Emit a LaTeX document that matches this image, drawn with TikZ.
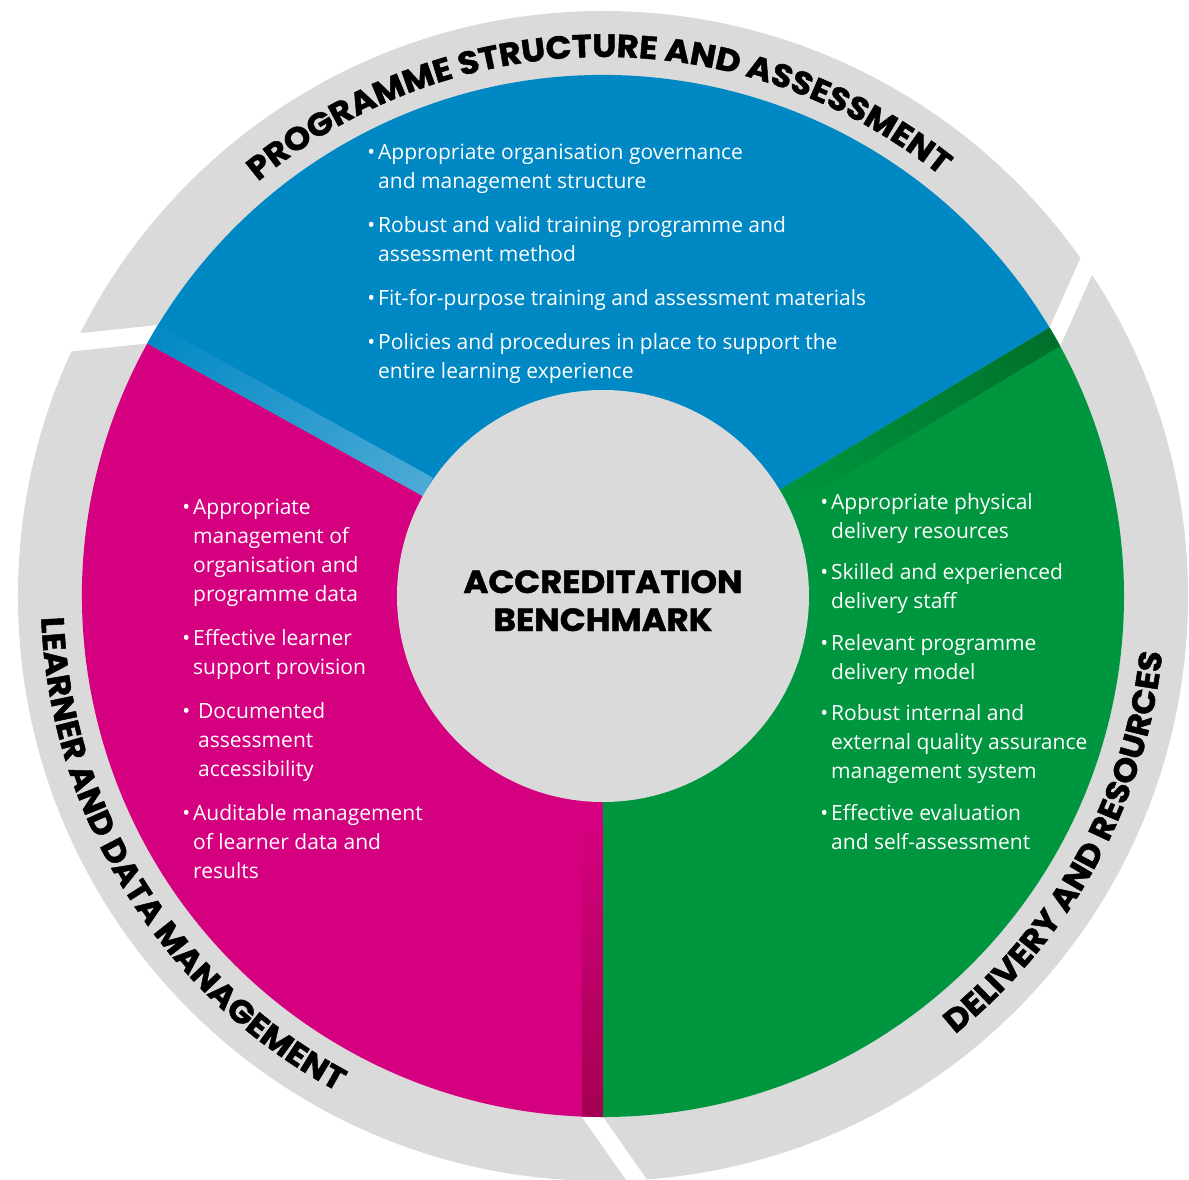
\documentclass[tikz,border=0pt]{standalone}
\usepackage{fontspec}
\setmainfont{Open Sans}
\newfontfamily\heavyfont{Poppins}[BoldFeatures={FakeBold=1.5, FakeStretch=1.06}]
\usetikzlibrary{decorations.text}

\definecolor{ringgrey}{HTML}{DADADA}
\definecolor{secblue}{HTML}{0088C4}
\definecolor{secblueL}{HTML}{4DAAD6}
\definecolor{secgreen}{HTML}{00963F}
\definecolor{secgreenD}{HTML}{006F2B}
\definecolor{secmag}{HTML}{D5007F}
\definecolor{secmagD}{HTML}{A3004F}

\newcommand\bodyfont{\fontsize{21}{29}\selectfont}
\newcommand\ringfont{\heavyfont\bfseries\fontsize{32}{32}\selectfont}
\newcommand\bul{\llap{\textbullet\hspace{3pt}}}

\tikzset{
  bodytext/.style={anchor=base west, align=left, inner sep=0pt, text=white, font=\bodyfont},
  ringlabel/.style={decorate, decoration={text along path, text align=center, text={|\ringfont|#1}}},
}

\begin{document}
\begin{tikzpicture}[x=1pt,y=1pt]
\useasboundingbox (-603,-583) rectangle (586,596);

% outer grey ring
\fill[ringgrey] (0,0) circle[radius=585];

% white gaps between the ring segments, tilted against the radius
\foreach \t in {31,151,270}{
  \fill[white, rotate=\t] (512.8,-5.7) -- (512.8,-26.7) -- (660.2,76.5) -- (660.2,97.5) -- cycle;
}

% the three coloured sectors
\fill[secblue]  (0,0) -- (31:521)  arc[start angle=31,  end angle=151, radius=521] -- cycle;
\fill[secmag]   (0,0) -- (151:521) arc[start angle=151, end angle=270, radius=521] -- cycle;
\fill[secgreen] (0,0) -- (270:521) arc[start angle=270, end angle=391, radius=521] -- cycle;

% shaded bands along the sector borders
\begin{scope}
  \clip (0,0) circle[radius=521];
  \begin{scope}[transform canvas={rotate=151}]
    \shade[left color=secblueL, right color=secblue] (206,-21) rectangle (530,0);
  \end{scope}
  \begin{scope}[transform canvas={rotate=31}]
    \shade[left color=secgreen, right color=secgreenD] (206,-21) rectangle (530,0);
  \end{scope}
  \begin{scope}[transform canvas={rotate=270}]
    \shade[left color=secmag, right color=secmagD] (230,-21) rectangle (530,0);
  \end{scope}
\end{scope}

% hub
\fill[ringgrey] (0,0) circle[radius=206];
\node[font=\heavyfont\bfseries\fontsize{32}{38}\selectfont, align=center, anchor=base, inner sep=0pt] (title) at (0,-35) {ACCREDITATION\\BENCHMARK};

% ring captions
\path[ringlabel={PROGRAMME STRUCTURE AND ASSESSMENT}] (150.5:539) arc[start angle=150.5, end angle=30.5, radius=539];
\path[ringlabel={LEARNER AND DATA MANAGEMENT}] (167:562) arc[start angle=167, end angle=257, radius=562];
\path[ringlabel={DELIVERY AND RESOURCES}] (286.5:562) arc[start angle=286.5, end angle=376.5, radius=562];

% sector contents
\node[bodytext] (structure) at (-225,218) {%
\bul Appropriate organisation governance\\
and management structure\\[15pt]
\bul Robust and valid training programme and\\
assessment method\\[15pt]
\bul Fit-for-purpose training and assessment materials\\[15pt]
\bul Policies and procedures in place to support the\\
entire learning experience};

\node[bodytext] (learner) at (-410,-282) {%
\bul Appropriate\\
management of\\
organisation and\\
programme data\\[15pt]
\bul Effective learner\\
support provision\\[15pt]
\bul\hspace*{5pt}Documented\\
\hspace*{5pt}assessment\\
\hspace*{5pt}accessibility\\[15pt]
\bul Auditable management\\
of learner data and\\
results};

\node[bodytext] (delivery) at (228,-253) {%
\bul Appropriate physical\\
delivery resources\\[12.5pt]
\bul Skilled and experienced\\
delivery staff\\[12.5pt]
\bul Relevant programme\\
delivery model\\[12.5pt]
\bul Robust internal and\\
external quality assurance\\
management system\\[12.5pt]
\bul Effective evaluation\\
and self-assessment};
\end{tikzpicture}
\end{document}
